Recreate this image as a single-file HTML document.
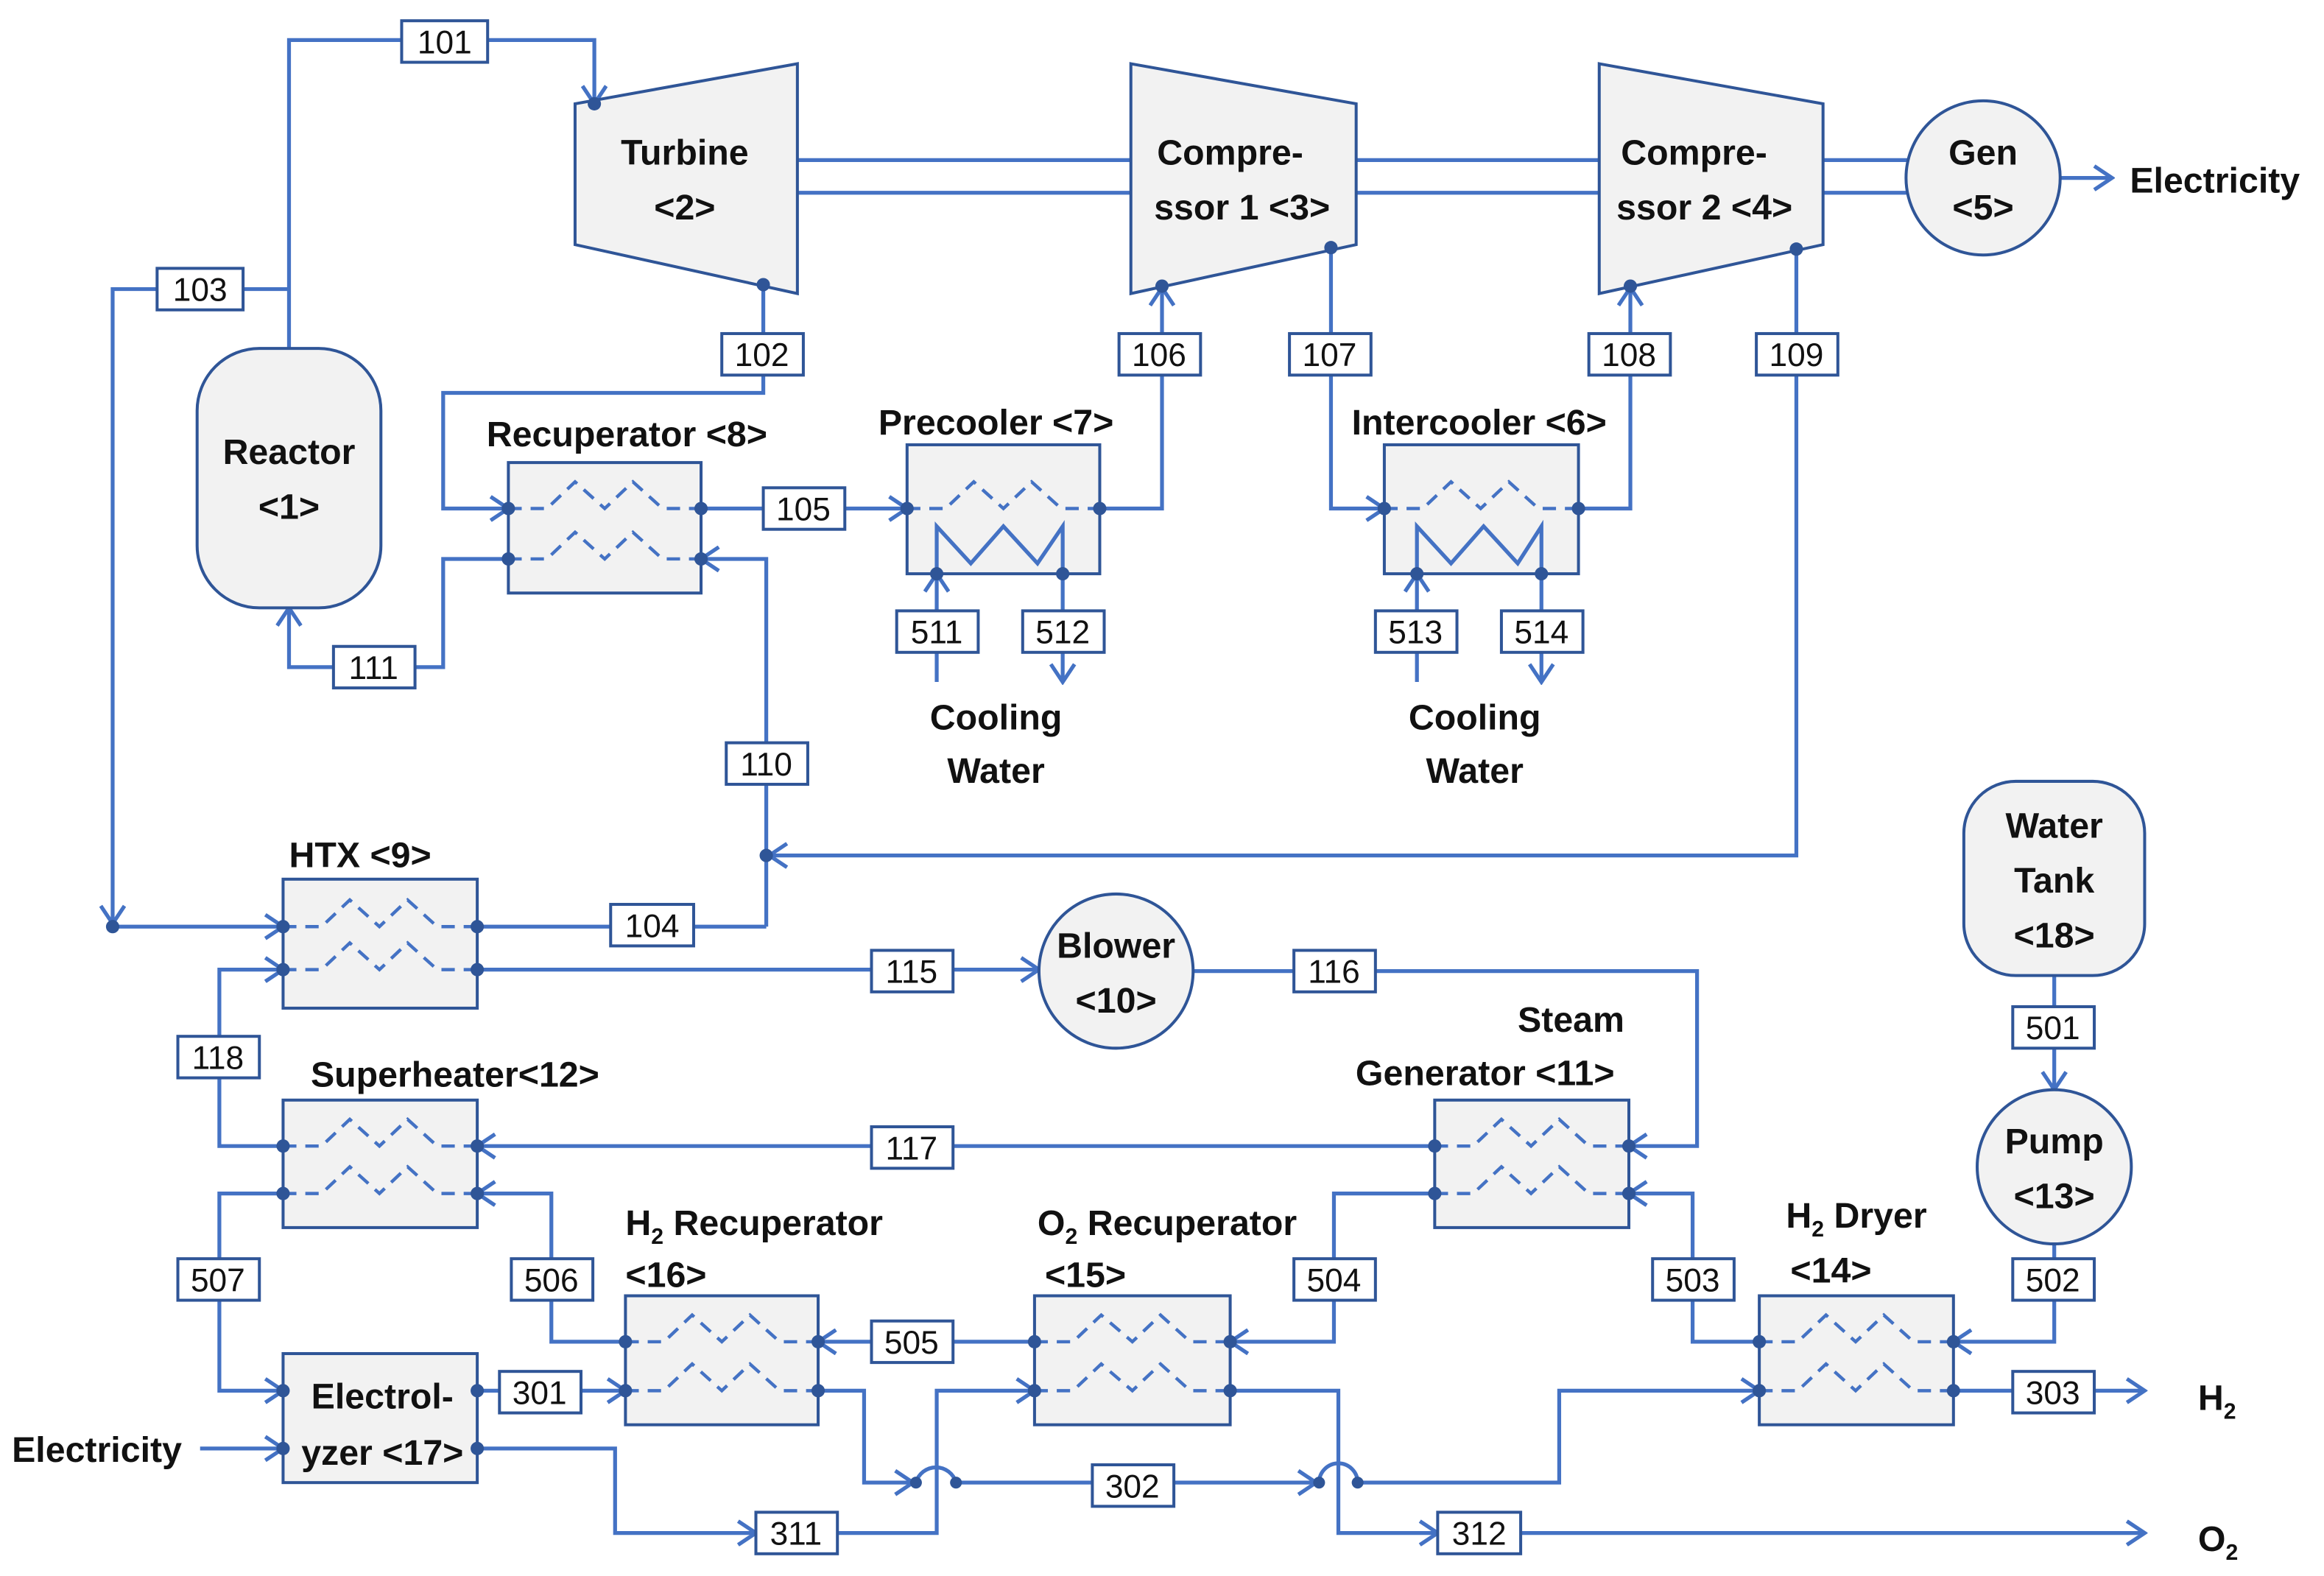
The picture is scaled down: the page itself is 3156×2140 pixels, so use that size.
<!DOCTYPE html>
<html><head><meta charset="utf-8"><style>
html,body{margin:0;padding:0;background:#fff;}
svg{display:block;}
text{font-family:"Liberation Sans",sans-serif;}
.t{font-weight:bold;font-size:24px;fill:#111;text-anchor:middle;}
.ts{font-weight:bold;font-size:24px;fill:#111;}
.l{font-size:22px;fill:#111;text-anchor:middle;}
.ln{fill:none;stroke:#4472C4;stroke-width:2.6;}
.a{fill:none;stroke:#4472C4;stroke-width:2.6;marker-end:url(#ar);}
.box{fill:#f2f2f2;stroke:#2F5597;stroke-width:2;}
.lb{fill:#fff;stroke:#2F5597;stroke-width:2;}
.w{fill:none;stroke:#4472C4;stroke-width:2.2;stroke-dasharray:9 6;}
.d{fill:#2F5597;}
</style></head><body>
<svg width="3156" height="2140" viewBox="0 0 1568 1063" preserveAspectRatio="none" xmlns="http://www.w3.org/2000/svg">
<defs>
<marker id="ar" markerUnits="userSpaceOnUse" markerWidth="16" markerHeight="18" refX="14" refY="9" orient="auto">
<path d="M2,1 L14,9 L2,17" fill="none" stroke="#4472C4" stroke-width="2.6"/>
</marker>
</defs>
<rect width="1568" height="1063" fill="#fff"/>

<!-- shafts -->
<g class="ln">
<line x1="538" y1="108" x2="763" y2="108"/><line x1="538" y1="130" x2="763" y2="130"/>
<line x1="915" y1="108" x2="1079" y2="108"/><line x1="915" y1="130" x2="1079" y2="130"/>
<line x1="1230" y1="108" x2="1287" y2="108"/><line x1="1230" y1="130" x2="1287" y2="130"/>
</g>

<!-- connectors -->
<polyline class="a" points="195,235 195,27 401,27 401,70"/>
<polyline class="a" points="195,195 76,195 76,623"/>
<polyline class="a" points="76,625 191,625"/>
<polyline class="a" points="515,192 515,265 299,265 299,343 343,343"/>
<polyline class="a" points="473,343 612,343"/>
<polyline class="a" points="742,343 784,343 784,194"/>
<polyline class="a" points="632,460 632,387"/>
<polyline class="a" points="717,387 717,460"/>
<polyline class="a" points="898,167 898,343 934,343"/>
<polyline class="a" points="1065,343 1100,343 1100,194"/>
<polyline class="a" points="956,460 956,387"/>
<polyline class="a" points="1040,387 1040,460"/>
<polyline class="a" points="1212,168 1212,577 519,577"/>
<polyline class="a" points="517,625 517,377 473,377"/>
<polyline class="ln" points="322,625 517,625"/>
<polyline class="a" points="343,377 299,377 299,450 195,450 195,410"/>
<polyline class="a" points="1390,120 1425,120"/>
<polyline class="a" points="322,654 701,654"/>
<polyline class="a" points="805,655 1145,655 1145,773 1099,773"/>
<polyline class="a" points="968,773 322,773"/>
<polyline class="a" points="191,773 148,773 148,654 191,654"/>
<polyline class="a" points="191,805 148,805 148,938 191,938"/>
<polyline class="a" points="422,905 372,905 372,805 322,805"/>
<polyline class="a" points="698,905 552,905"/>
<polyline class="a" points="968,805 900,805 900,905 830,905"/>
<polyline class="a" points="1187,905 1142,905 1142,805 1099,805"/>
<polyline class="a" points="1386,838 1386,905 1318,905"/>
<polyline class="a" points="1386,658 1386,735"/>
<polyline class="a" points="135,977 191,977"/>
<polyline class="a" points="322,938 422,938"/>
<polyline class="a" points="552,938 583,938 583,1000 616,1000"/>
<path class="ln" d="M618,1000 A14,14 0 0 1 645,1000"/>
<polyline class="a" points="645,1000 888,1000"/>
<path class="ln" d="M890,1000 A13,13 0 0 1 916,1000"/>
<polyline class="a" points="916,1000 1052,1000 1052,938 1187,938"/>
<polyline class="a" points="322,977 415,977 415,1034 510,1034"/>
<polyline class="a" points="565,1034 632,1034 632,938 698,938"/>
<polyline class="a" points="830,938 903,938 903,1034 970,1034"/>
<polyline class="a" points="1026,1034 1447,1034"/>
<polyline class="a" points="1318,938 1447,938"/>
<g class="d"><circle cx="618" cy="1000" r="4"/><circle cx="645" cy="1000" r="4"/><circle cx="890" cy="1000" r="4"/><circle cx="916" cy="1000" r="4"/><circle cx="517" cy="577" r="4.5"/><circle cx="76" cy="625" r="4.5"/></g>

<!-- Reactor -->
<rect class="box" x="133" y="235" width="124" height="175" rx="42"/>
<text class="t" x="195" y="313">Reactor</text><text class="t" x="195" y="350">&lt;1&gt;</text>
<!-- Turbine -->
<polygon class="box" points="388,70 538,43 538,198 388,165"/>
<text class="t" x="462" y="111">Turbine</text><text class="t" x="462" y="148">&lt;2&gt;</text>
<circle class="d" cx="401" cy="70" r="4.5"/><circle class="d" cx="515" cy="192" r="4.5"/>
<!-- Compressors -->
<polygon class="box" points="763,43 915,70 915,165 763,198"/>
<text class="t" x="830" y="111">Compre-</text><text class="t" x="838" y="148">ssor 1 &lt;3&gt;</text>
<circle class="d" cx="784" cy="193" r="4.5"/><circle class="d" cx="898" cy="167" r="4.5"/>
<polygon class="box" points="1079,43 1230,70 1230,165 1079,198"/>
<text class="t" x="1143" y="111">Compre-</text><text class="t" x="1150" y="148">ssor 2 &lt;4&gt;</text>
<circle class="d" cx="1100" cy="193" r="4.5"/><circle class="d" cx="1212" cy="168" r="4.5"/>
<!-- Gen -->
<circle class="box" cx="1338" cy="120" r="52"/>
<text class="t" x="1338" y="111">Gen</text><text class="t" x="1338" y="148">&lt;5&gt;</text>
<text class="ts" x="1437" y="130">Electricity</text>

<!-- Heat exchangers -->
<g id="hx">
</g>
<rect class="box" x="343" y="312" width="130" height="88"/>
<polyline class="w" points="343,343 369,343 388,325 408,343 427,325 447,343 473,343"/>
<polyline class="w" points="343,377 369,377 388,359 408,377 427,359 447,377 473,377"/>
<g class="d"><circle cx="343" cy="343" r="4.5"/><circle cx="473" cy="343" r="4.5"/><circle cx="343" cy="377" r="4.5"/><circle cx="473" cy="377" r="4.5"/></g>
<text class="t" x="423" y="301">Recuperator &lt;8&gt;</text>

<rect class="box" x="612" y="300" width="130" height="87"/>
<polyline class="w" points="612,343 638,343 657,325 677,343 696,325 716,343 742,343"/>
<polyline class="ln" points="632,387 632,355 655,380 677,355 700,380 717,355 717,387"/>
<g class="d"><circle cx="612" cy="343" r="4.5"/><circle cx="742" cy="343" r="4.5"/><circle cx="632" cy="387" r="4.5"/><circle cx="717" cy="387" r="4.5"/></g>
<text class="t" x="672" y="293">Precooler &lt;7&gt;</text>

<rect class="box" x="934" y="300" width="131" height="87"/>
<polyline class="w" points="934,343 960,343 979,325 999,343 1018,325 1038,343 1065,343"/>
<polyline class="ln" points="956,387 956,355 979,380 1001,355 1024,380 1040,355 1040,387"/>
<g class="d"><circle cx="934" cy="343" r="4.5"/><circle cx="1065" cy="343" r="4.5"/><circle cx="956" cy="387" r="4.5"/><circle cx="1040" cy="387" r="4.5"/></g>
<text class="t" x="998" y="293">Intercooler &lt;6&gt;</text>

<text class="t" x="672" y="492">Cooling</text><text class="t" x="672" y="528">Water</text>
<text class="t" x="995" y="492">Cooling</text><text class="t" x="995" y="528">Water</text>

<!-- HTX -->
<rect class="box" x="191" y="593" width="131" height="87"/>
<polyline class="w" points="191,625 217,625 236,607 256,625 275,607 295,625 322,625"/>
<polyline class="w" points="191,654 217,654 236,636 256,654 275,636 295,654 322,654"/>
<g class="d"><circle cx="191" cy="625" r="4.5"/><circle cx="322" cy="625" r="4.5"/><circle cx="191" cy="654" r="4.5"/><circle cx="322" cy="654" r="4.5"/></g>
<text class="t" x="243" y="585">HTX &lt;9&gt;</text>

<!-- Superheater -->
<rect class="box" x="191" y="742" width="131" height="86"/>
<polyline class="w" points="191,773 217,773 236,755 256,773 275,755 295,773 322,773"/>
<polyline class="w" points="191,805 217,805 236,787 256,805 275,787 295,805 322,805"/>
<g class="d"><circle cx="191" cy="773" r="4.5"/><circle cx="322" cy="773" r="4.5"/><circle cx="191" cy="805" r="4.5"/><circle cx="322" cy="805" r="4.5"/></g>
<text class="t" x="307" y="733">Superheater&lt;12&gt;</text>

<!-- Steam generator -->
<rect class="box" x="968" y="742" width="131" height="86"/>
<polyline class="w" points="968,773 994,773 1013,755 1033,773 1052,755 1072,773 1099,773"/>
<polyline class="w" points="968,805 994,805 1013,787 1033,805 1052,787 1072,805 1099,805"/>
<g class="d"><circle cx="968" cy="773" r="4.5"/><circle cx="1099" cy="773" r="4.5"/><circle cx="968" cy="805" r="4.5"/><circle cx="1099" cy="805" r="4.5"/></g>
<text class="t" x="1060" y="696">Steam</text><text class="t" x="1002" y="732">Generator &lt;11&gt;</text>

<!-- H2 Recuperator -->
<rect class="box" x="422" y="874" width="130" height="87"/>
<polyline class="w" points="422,905 448,905 467,887 487,905 506,887 526,905 552,905"/>
<polyline class="w" points="422,938 448,938 467,920 487,938 506,920 526,938 552,938"/>
<g class="d"><circle cx="422" cy="905" r="4.5"/><circle cx="552" cy="905" r="4.5"/><circle cx="422" cy="938" r="4.5"/><circle cx="552" cy="938" r="4.5"/></g>
<text class="ts" x="422" y="833">H<tspan font-size="15" dy="6">2</tspan><tspan dy="-6"> Recuperator</tspan></text>
<text class="ts" x="422" y="868">&lt;16&gt;</text>

<!-- O2 Recuperator -->
<rect class="box" x="698" y="874" width="132" height="87"/>
<polyline class="w" points="698,905 724,905 743,887 764,905 783,887 803,905 830,905"/>
<polyline class="w" points="698,938 724,938 743,920 764,938 783,920 803,938 830,938"/>
<g class="d"><circle cx="698" cy="905" r="4.5"/><circle cx="830" cy="905" r="4.5"/><circle cx="698" cy="938" r="4.5"/><circle cx="830" cy="938" r="4.5"/></g>
<text class="ts" x="700" y="833">O<tspan font-size="15" dy="6">2</tspan><tspan dy="-6"> Recuperator</tspan></text>
<text class="ts" x="705" y="868">&lt;15&gt;</text>

<!-- H2 Dryer -->
<rect class="box" x="1187" y="874" width="131" height="87"/>
<polyline class="w" points="1187,905 1213,905 1232,887 1252,905 1271,887 1291,905 1318,905"/>
<polyline class="w" points="1187,938 1213,938 1232,920 1252,938 1271,920 1291,938 1318,938"/>
<g class="d"><circle cx="1187" cy="905" r="4.5"/><circle cx="1318" cy="905" r="4.5"/><circle cx="1187" cy="938" r="4.5"/><circle cx="1318" cy="938" r="4.5"/></g>
<text class="ts" x="1205" y="828">H<tspan font-size="15" dy="6">2</tspan><tspan dy="-6"> Dryer</tspan></text>
<text class="ts" x="1208" y="865">&lt;14&gt;</text>

<!-- Electrolyzer -->
<rect class="box" x="191" y="913" width="131" height="87"/>
<g class="d"><circle cx="191" cy="938" r="4.5"/><circle cx="322" cy="938" r="4.5"/><circle cx="191" cy="977" r="4.5"/><circle cx="322" cy="977" r="4.5"/></g>
<text class="t" x="258" y="950">Electrol-</text><text class="t" x="258" y="988">yzer &lt;17&gt;</text>
<text class="ts" x="8" y="986">Electricity</text>

<!-- Blower, Pump, Tank -->
<circle class="box" cx="753" cy="655" r="52"/>
<text class="t" x="753" y="646">Blower</text><text class="t" x="753" y="683">&lt;10&gt;</text>
<circle class="box" cx="1386" cy="787" r="52"/>
<text class="t" x="1386" y="778">Pump</text><text class="t" x="1386" y="815">&lt;13&gt;</text>
<rect class="box" x="1325" y="527" width="122" height="131" rx="35"/>
<text class="t" x="1386" y="565">Water</text><text class="t" x="1386" y="602">Tank</text><text class="t" x="1386" y="639">&lt;18&gt;</text>

<text class="ts" x="1483" y="951">H<tspan font-size="15" dy="6">2</tspan></text>
<text class="ts" x="1483" y="1046">O<tspan font-size="15" dy="6">2</tspan></text>

<!-- labels -->
<g>
<rect class="lb" x="271" y="14" width="58" height="28"/><text class="l" x="300" y="36">101</text>
<rect class="lb" x="106" y="181" width="58" height="28"/><text class="l" x="135" y="203">103</text>
<rect class="lb" x="487" y="225" width="55" height="28"/><text class="l" x="514" y="247">102</text>
<rect class="lb" x="755" y="225" width="55" height="28"/><text class="l" x="782" y="247">106</text>
<rect class="lb" x="870" y="225" width="55" height="28"/><text class="l" x="897" y="247">107</text>
<rect class="lb" x="1072" y="225" width="55" height="28"/><text class="l" x="1099" y="247">108</text>
<rect class="lb" x="1185" y="225" width="55" height="28"/><text class="l" x="1212" y="247">109</text>
<rect class="lb" x="515" y="329" width="55" height="28"/><text class="l" x="542" y="351">105</text>
<rect class="lb" x="605" y="412" width="55" height="28"/><text class="l" x="632" y="434">511</text>
<rect class="lb" x="690" y="412" width="55" height="28"/><text class="l" x="717" y="434">512</text>
<rect class="lb" x="928" y="412" width="55" height="28"/><text class="l" x="955" y="434">513</text>
<rect class="lb" x="1013" y="412" width="55" height="28"/><text class="l" x="1040" y="434">514</text>
<rect class="lb" x="225" y="436" width="55" height="28"/><text class="l" x="252" y="458">111</text>
<rect class="lb" x="490" y="501" width="55" height="28"/><text class="l" x="517" y="523">110</text>
<rect class="lb" x="412" y="610" width="56" height="28"/><text class="l" x="440" y="632">104</text>
<rect class="lb" x="588" y="641" width="55" height="28"/><text class="l" x="615" y="663">115</text>
<rect class="lb" x="873" y="641" width="55" height="28"/><text class="l" x="900" y="663">116</text>
<rect class="lb" x="120" y="699" width="55" height="28"/><text class="l" x="147" y="721">118</text>
<rect class="lb" x="1358" y="679" width="55" height="28"/><text class="l" x="1385" y="701">501</text>
<rect class="lb" x="588" y="760" width="55" height="28"/><text class="l" x="615" y="782">117</text>
<rect class="lb" x="120" y="849" width="55" height="28"/><text class="l" x="147" y="871">507</text>
<rect class="lb" x="345" y="849" width="55" height="28"/><text class="l" x="372" y="871">506</text>
<rect class="lb" x="873" y="849" width="55" height="28"/><text class="l" x="900" y="871">504</text>
<rect class="lb" x="1115" y="849" width="55" height="28"/><text class="l" x="1142" y="871">503</text>
<rect class="lb" x="1358" y="849" width="55" height="28"/><text class="l" x="1385" y="871">502</text>
<rect class="lb" x="588" y="891" width="55" height="28"/><text class="l" x="615" y="913">505</text>
<rect class="lb" x="337" y="925" width="55" height="28"/><text class="l" x="364" y="947">301</text>
<rect class="lb" x="1358" y="925" width="55" height="28"/><text class="l" x="1385" y="947">303</text>
<rect class="lb" x="737" y="988" width="55" height="28"/><text class="l" x="764" y="1010">302</text>
<rect class="lb" x="510" y="1020" width="55" height="28"/><text class="l" x="537" y="1042">311</text>
<rect class="lb" x="970" y="1020" width="56" height="28"/><text class="l" x="998" y="1042">312</text>
</g>
</svg>
</body></html>
